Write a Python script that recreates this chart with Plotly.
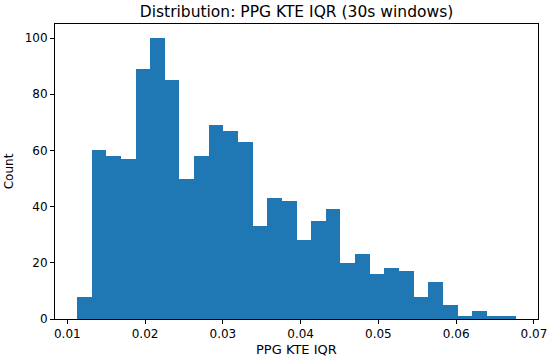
import numpy as np
import plotly.graph_objects as go

# Histogram data (30 bins)
data_min = 0.01124
data_max = 0.0677
counts = [8, 60, 58, 57, 89, 100, 85, 50, 58, 69, 67, 63, 33, 43, 42,
          28, 35, 39, 20, 23, 16, 18, 17, 8, 13, 5, 1, 3, 1, 1]
x_ticks = [0.01, 0.02, 0.03, 0.04, 0.05, 0.06, 0.07]
y_ticks = [0, 20, 40, 60, 80, 100]

n_bins = len(counts)
edges = np.linspace(data_min, data_max, n_bins + 1)
centers = (edges[:-1] + edges[1:]) / 2
bw = edges[1] - edges[0]

span = data_max - data_min
x_range = [data_min - 0.05 * span, data_max + 0.05 * span]
y_range = [0, max(counts) * 1.05]

fig = go.Figure(go.Bar(
    x=centers, y=counts, width=[bw] * n_bins,
    marker=dict(color="#1f77b4", line=dict(width=0)),
))

font = "DejaVu Sans, sans-serif"
axis_common = dict(
    showgrid=False, zeroline=False, showline=True, linecolor="black",
    linewidth=1, mirror=True, ticks="outside", ticklen=4, tickwidth=1,
    tickcolor="black", tickfont=dict(family=font, size=12, color="black"),
    automargin=False,
)
W, H = 550, 361
ml, mr, mt, mb = 55, 12, 24, 42
plot_h = H - mt - mb
fig.update_layout(
    width=W, height=H,
    margin=dict(l=ml, r=mr, t=mt, b=mb),
    plot_bgcolor="white", paper_bgcolor="white",
    bargap=0, showlegend=False,
    title=dict(text="Distribution: PPG KTE IQR (30s windows)",
               x=(ml + W - mr) / 2 / W, xanchor="center",
               y=1 - 12 / H, yanchor="middle",
               font=dict(family=font, size=15.5, color="black")),
    xaxis=dict(range=x_range, tickvals=x_ticks, tickformat=".2f",
               **axis_common),
    yaxis=dict(range=y_range, tickvals=y_ticks,
               title=dict(text="Count", standoff=8,
                          font=dict(family=font, size=12, color="black")),
               **axis_common),
    annotations=[dict(text="PPG KTE IQR", xref="paper", yref="paper",
                      x=0.5, y=-(349 - (H - mb)) / plot_h,
                      xanchor="center", yanchor="middle", showarrow=False,
                      font=dict(family=font, size=13, color="black"))],
)

fig.write_html("out.html",
               config={"displayModeBar": False},
               post_script="document.body.style.margin='0';"
                           "document.body.style.overflow='hidden';")
